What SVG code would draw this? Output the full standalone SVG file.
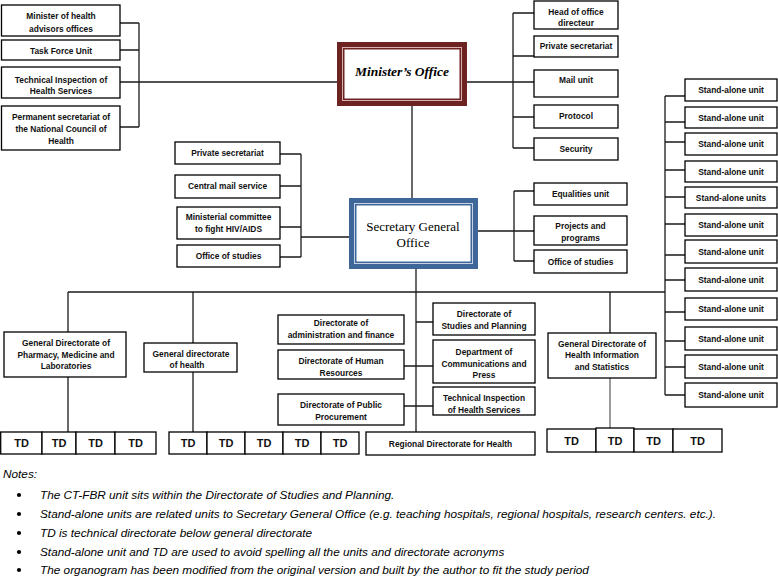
<svg xmlns="http://www.w3.org/2000/svg" width="778" height="578" viewBox="0 0 778 578">
<style>
.box{fill:#fff;stroke:#000;stroke-width:1.3}
.t{font-family:"Liberation Sans",Arial,sans-serif;font-size:8.4px;font-weight:bold;text-anchor:middle;fill:#111}
.td{font-size:11px}
.c{stroke:#1a1a1a;stroke-width:1.3;fill:none}
.g{stroke:#666}
.note{font-family:"Liberation Sans",Arial,sans-serif;font-style:italic;font-size:11.8px;fill:#000}
</style>
<rect width="778" height="578" fill="#fff"/>

<g id="connectors">
<path class="c" d="M120,23H139M120,50H139M120,82H337M120,127H139M139,23V127"/>
<path class="c" d="M467,82H534M513,13V148M513,13H534M513,56H534M513,117H534M513,148H534"/>
<path class="c" d="M412,106V198"/>
<path class="c" d="M280,154H301M280,186H301M280,227H301M280,257H301M301,154V257M301,237H349"/>
<path class="c" d="M478,231H534M514,191V261M514,191H534M514,261H534"/>
<path class="c" d="M416,269V432"/>
<path class="c" d="M68,292H665"/>
<path class="c" d="M68,292V332M68,377V432"/>
<path class="c" d="M193,292V343M193,372V432"/>
<path class="c" d="M610,292V333"/>
<path class="c g" d="M610,378V429"/>
<path class="c" d="M416,322H433M404,366H433M404,406H433"/>
<path class="c" d="M665,96V395M665,96H685M665,122H685M665,142H685M665,170H685M665,197H685M665,224H685M665,255H685M665,280H685M665,312H685M665,341H685M665,367H685M665,395H685"/>
</g>

<g id="minister-office">
<rect x="337" y="42" width="130" height="64" fill="#6e2323"/>
<rect x="342" y="47" width="120" height="54" fill="#d8b0b0"/>
<rect x="343" y="48" width="118" height="52" fill="#6e2323"/>
<rect x="344.5" y="49.5" width="115" height="49" fill="#fff"/>
<text x="402" y="76" style="font-family:'Liberation Serif','Times New Roman',serif;font-size:13.5px;font-weight:bold;font-style:italic;text-anchor:middle;fill:#000">Minister’s Office</text>
</g>

<g id="secretary-general-office">
<rect x="349" y="198" width="129" height="71" fill="#3f6698"/>
<rect x="354" y="203" width="119" height="61" fill="#c6d3e6"/>
<rect x="355" y="204" width="117" height="59" fill="#3f6698"/>
<rect x="356.5" y="205.5" width="114" height="56" fill="#fff"/>
<text x="413" y="231" style="font-family:'Liberation Serif','Times New Roman',serif;font-size:13px;text-anchor:middle;fill:#000">Secretary General</text>
<text x="413" y="247" style="font-family:'Liberation Serif','Times New Roman',serif;font-size:13px;text-anchor:middle;fill:#000">Office</text>
</g>

<g id="advisors"><rect class="box" x="1.5" y="5" width="118.5" height="31"/><text class="t" x="61" y="19">Minister of health</text><text class="t" x="61" y="31.5">advisors offices</text></g>
<g id="task-force"><rect class="box" x="1.5" y="40" width="118.5" height="20"/><text class="t" x="61" y="53.5">Task Force Unit</text></g>
<g id="tech-inspection-top"><rect class="box" x="1.5" y="67" width="118.5" height="31"/><text class="t" x="61" y="82.5">Technical Inspection of</text><text class="t" x="61" y="94">Health Services</text></g>
<g id="permanent-secretariat"><rect class="box" x="1.5" y="106" width="118.5" height="44"/><text class="t" x="61" y="120">Permanent secretariat of</text><text class="t" x="61" y="132">the National Council of</text><text class="t" x="61" y="144">Health</text></g>

<g id="head-of-office"><rect class="box" x="534" y="1" width="84" height="28"/><text class="t" x="576" y="14.5">Head of office</text><text class="t" x="576" y="26">directeur</text></g>
<g id="private-secretariat-top"><rect class="box" x="534" y="36" width="84" height="21"/><text class="t" x="576" y="49">Private secretariat</text></g>
<g id="mail-unit"><rect class="box" x="534" y="70" width="84" height="27"/><text class="t" x="576" y="83">Mail unit</text></g>
<g id="protocol"><rect class="box" x="534" y="105" width="84" height="23"/><text class="t" x="576" y="119">Protocol</text></g>
<g id="security"><rect class="box" x="534" y="138" width="84" height="22"/><text class="t" x="576" y="151.5">Security</text></g>

<g id="private-secretariat-sg"><rect class="box" x="175" y="142" width="105" height="22"/><text class="t" x="227.5" y="155.5">Private secretariat</text></g>
<g id="central-mail"><rect class="box" x="175" y="175" width="105" height="23"/><text class="t" x="227.5" y="189">Central mail service</text></g>
<g id="hiv-committee"><rect class="box" x="177" y="207" width="103" height="32"/><text class="t" x="228.5" y="220">Ministerial committee</text><text class="t" x="228.5" y="232">to fight HIV/AIDS</text></g>
<g id="office-studies-left"><rect class="box" x="177" y="245" width="103" height="22"/><text class="t" x="228.5" y="258.5">Office of studies</text></g>

<g id="equalities"><rect class="box" x="534" y="183" width="93" height="22"/><text class="t" x="580.5" y="197">Equalities unit</text></g>
<g id="projects"><rect class="box" x="534" y="216" width="93" height="29"/><text class="t" x="580.5" y="229">Projects and</text><text class="t" x="580.5" y="241">programs</text></g>
<g id="office-studies-right"><rect class="box" x="534" y="250" width="93" height="23"/><text class="t" x="580.5" y="264.5">Office of studies</text></g>

<g id="gd-pharmacy"><rect class="box" x="4" y="332" width="122" height="45"/><text class="t" x="66" y="346">General Directorate of</text><text class="t" x="66" y="357.5">Pharmacy, Medicine and</text><text class="t" x="66" y="369">Laboratories</text></g>
<g id="gd-health"><rect class="box" x="144" y="343" width="93" height="29"/><text class="t" x="191" y="357">General directorate</text><text class="t" x="187" y="368">of health</text></g>

<g id="dir-admin"><rect class="box" x="278" y="315" width="126" height="29"/><text class="t" x="341" y="325.5">Directorate of</text><text class="t" x="341" y="337.5">administration and finance</text></g>
<g id="dir-hr"><rect class="box" x="278" y="350" width="126" height="29"/><text class="t" x="341" y="364">Directorate of Human</text><text class="t" x="341" y="376">Resources</text></g>
<g id="dir-procurement"><rect class="box" x="278" y="394" width="126" height="31"/><text class="t" x="341" y="407.5">Directorate of Public</text><text class="t" x="341" y="419.5">Procurement</text></g>
<g id="dir-studies-planning"><rect class="box" x="433" y="303" width="102" height="32"/><text class="t" x="484" y="317">Directorate of</text><text class="t" x="484" y="329">Studies and Planning</text></g>
<g id="dept-communications"><rect class="box" x="433" y="340" width="102" height="43"/><text class="t" x="484" y="355">Department of</text><text class="t" x="484" y="366.5">Communications and</text><text class="t" x="484" y="378">Press</text></g>
<g id="tech-inspection-mid"><rect class="box" x="433" y="387" width="102" height="28"/><text class="t" x="484" y="401">Technical Inspection</text><text class="t" x="484" y="412.5">of Health Services</text></g>
<g id="regional-directorate"><rect class="box" x="366" y="432" width="169" height="23"/><text class="t" x="450.5" y="446.5">Regional Directorate for Health</text></g>

<g id="gd-health-info"><rect class="box" x="548" y="333" width="108" height="45"/><text class="t" x="602" y="346.5">General Directorate of</text><text class="t" x="602" y="358">Health Information</text><text class="t" x="602" y="369.5">and Statistics</text></g>

<g id="td-row-1">
<rect class="box" x="0.7" y="432" width="41.3" height="22"/><text class="t td" x="21.5" y="447">TD</text>
<rect class="box" x="42" y="432" width="34" height="22"/><text class="t td" x="59" y="447">TD</text>
<rect class="box" x="76" y="432" width="39" height="22"/><text class="t td" x="95.5" y="447">TD</text>
<rect class="box" x="115" y="432" width="41" height="22"/><text class="t td" x="135.5" y="447">TD</text>
</g>
<g id="td-row-2">
<rect class="box" x="169" y="432" width="38" height="22"/><text class="t td" x="188" y="447">TD</text>
<rect class="box" x="207" y="432" width="38" height="22"/><text class="t td" x="226" y="447">TD</text>
<rect class="box" x="245" y="432" width="38" height="22"/><text class="t td" x="264" y="447">TD</text>
<rect class="box" x="283" y="432" width="38" height="22"/><text class="t td" x="302" y="447">TD</text>
<rect class="box" x="321" y="432" width="38" height="22"/><text class="t td" x="340" y="447">TD</text>
</g>
<g id="td-row-3">
<rect class="box" x="547" y="429" width="49" height="23"/><text class="t td" x="571.5" y="444.5">TD</text>
<rect class="box" x="596" y="428" width="38" height="24"/><text class="t td" x="615" y="444.5">TD</text>
<rect class="box" x="634" y="429" width="39" height="23"/><text class="t td" x="653.5" y="444.5">TD</text>
<rect class="box" x="673" y="429" width="49" height="23"/><text class="t td" x="697.5" y="444.5">TD</text>
</g>

<g id="stand-alone-units">
<rect class="box" x="685" y="79" width="92" height="22"/><text class="t" x="731" y="93">Stand-alone unit</text>
<rect class="box" x="685" y="107" width="92" height="21"/><text class="t" x="731" y="120.5">Stand-alone unit</text>
<rect class="box" x="685" y="133" width="92" height="22"/><text class="t" x="731" y="147">Stand-alone unit</text>
<rect class="box" x="685" y="161" width="92" height="21"/><text class="t" x="731" y="174.5">Stand-alone unit</text>
<rect class="box" x="685" y="187" width="92" height="21"/><text class="t" x="731" y="200.5">Stand-alone units</text>
<rect class="box" x="685" y="214" width="92" height="22"/><text class="t" x="731" y="228">Stand-alone unit</text>
<rect class="box" x="685" y="240" width="92" height="23"/><text class="t" x="731" y="254.5">Stand-alone unit</text>
<rect class="box" x="685" y="268" width="92" height="23"/><text class="t" x="731" y="282.5">Stand-alone unit</text>
<rect class="box" x="685" y="298" width="92" height="22"/><text class="t" x="731" y="312">Stand-alone unit</text>
<rect class="box" x="685" y="327" width="92" height="23"/><text class="t" x="731" y="341.5">Stand-alone unit</text>
<rect class="box" x="685" y="355" width="92" height="23"/><text class="t" x="731" y="369.5">Stand-alone unit</text>
<rect class="box" x="685" y="383" width="92" height="24"/><text class="t" x="731" y="398">Stand-alone unit</text>
</g>

<g id="notes">
<text class="note" x="3" y="478">Notes:</text>
<circle cx="19" cy="495" r="2.1"/><text class="note" x="40" y="499">The CT-FBR unit sits within the Directorate of Studies and Planning.</text>
<circle cx="19" cy="514" r="2.1"/><text class="note" x="40" y="518">Stand-alone units are related units to Secretary General Office (e.g. teaching hospitals, regional hospitals, research centers. etc.).</text>
<circle cx="19" cy="533" r="2.1"/><text class="note" x="40" y="537">TD is technical directorate below general directorate</text>
<circle cx="19" cy="552" r="2.1"/><text class="note" x="40" y="556">Stand-alone unit and TD are used to avoid spelling all the units and directorate acronyms</text>
<circle cx="19" cy="570" r="2.1"/><text class="note" x="40" y="574">The organogram has been modified from the original version and built by the author to fit the study period</text>
</g>
</svg>
